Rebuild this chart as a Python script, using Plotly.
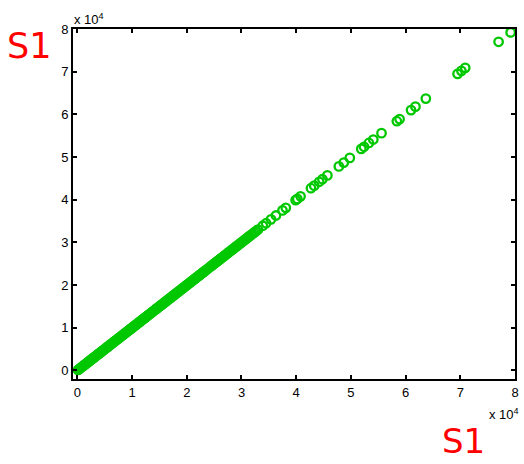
import plotly.graph_objects as go

# S1 values (same quantity on both axes)
s1 = [
    120, 310, 520, 690, 880, 1050, 1270, 1440, 1630, 1850, 2010, 2240, 2410,
    2590, 2820, 3000, 3180, 3390, 3570, 3760, 3950, 4130, 4340, 4520, 4700,
    4910, 5080, 5290, 5460, 5650, 5870, 6040, 6220, 6430, 6610, 6800, 7010,
    7190, 7380, 7570, 7760, 7960, 8140, 8330, 8520, 8710, 8920, 9100, 9280,
    9490, 9670, 9860, 10050, 10240, 10430, 10620, 10810, 11000, 11190, 11380,
    11570, 11760, 11960, 12150, 12330, 12520, 12710, 12900, 13100, 13280,
    13470, 13660, 13860, 14040, 14230, 14420, 14620, 14800, 14990, 15180,
    15380, 15560, 15750, 15940, 16140, 16320, 16510, 16700, 16900, 17080,
    17270, 17460, 17660, 17840, 18030, 18220, 18420, 18600, 18790, 18980,
    19180, 19360, 19550, 19740, 19940, 20120, 20310, 20500, 20700, 20880,
    21070, 21260, 21460, 21640, 21830, 22020, 22220, 22400, 22590, 22780,
    22980, 23160, 23400, 23700, 23950, 24300, 24550, 24800, 25000, 25250,
    25500, 25700, 25950, 26200, 26400, 26650, 26900, 27100, 27350, 27600,
    27800, 28050, 28300, 28500, 28750, 29000, 29200, 29450, 29700, 29900,
    30150, 30400, 30650, 30900, 31150, 31400, 31700, 32000, 32300, 32600,
    33000, 33900, 34500, 35400, 36300, 37500, 38100, 39900, 40200, 40800,
    42700, 43300, 44200, 44800, 45700, 47800, 48700, 49800, 51900, 52400,
    53300, 54100, 55600, 58400, 58900, 61000, 61800, 63700, 69500, 70200,
    70900, 77000, 79200,
]

x_ticks = [0, 10000, 20000, 30000, 40000, 50000, 60000, 70000, 80000]
x_tick_text = ["0", "1", "2", "3", "4", "5", "6", "7", "8"]
y_ticks = [0, 10000, 20000, 30000, 40000, 50000, 60000, 70000, 80000]
y_tick_text = ["0", "1", "2", "3", "4", "5", "6", "7", "8"]

green = "rgb(0,200,0)"
tick_font = dict(family="Liberation Sans, Arial, sans-serif", size=13, color="black")

fig = go.Figure()
fig.add_trace(go.Scatter(
    x=s1, y=s1, mode="markers",
    marker=dict(symbol="circle-open", size=8.5, color=green, line=dict(width=2.3, color=green)),
    showlegend=False, hoverinfo="x+y",
))

axis_common = dict(
    showline=True, linecolor="black", linewidth=2, mirror="ticks",
    ticks="inside", ticklen=4, tickwidth=2, tickcolor="black",
    showgrid=False, zeroline=False, tickfont=tick_font,
)
fig.update_xaxes(range=[-800, 80000], tickvals=x_ticks, ticktext=x_tick_text, **axis_common)
fig.update_yaxes(range=[-2000, 80000], tickvals=y_ticks, ticktext=y_tick_text, **axis_common)

red_font = dict(family="DejaVu Sans, sans-serif", size=34, color="red")
exp_font = dict(family="Liberation Sans, Arial, sans-serif", size=13, color="black")
fig.update_layout(
    width=524, height=464,
    margin=dict(l=73, r=5, t=29, b=85),
    plot_bgcolor="white", paper_bgcolor="white",
    annotations=[
        dict(text="S1", xref="paper", yref="paper", x=-0.098, y=0.952,
             xanchor="center", yanchor="middle", showarrow=False,
             font=dict(family="DejaVu Sans, sans-serif", size=35, color="red")),
        dict(text="S1", xref="paper", yref="paper", x=0.883, y=-0.176,
             xanchor="center", yanchor="middle", showarrow=False, font=red_font),
        dict(text="x 10<sup>4</sup>", xref="paper", yref="paper", x=-0.002, y=1.0,
             xanchor="left", yanchor="bottom", showarrow=False, font=exp_font),
        dict(text="x 10<sup>4</sup>", xref="paper", yref="paper", x=1.013, y=-0.07,
             xanchor="right", yanchor="top", showarrow=False, font=exp_font),
    ],
)

fig.write_html("out.html")
